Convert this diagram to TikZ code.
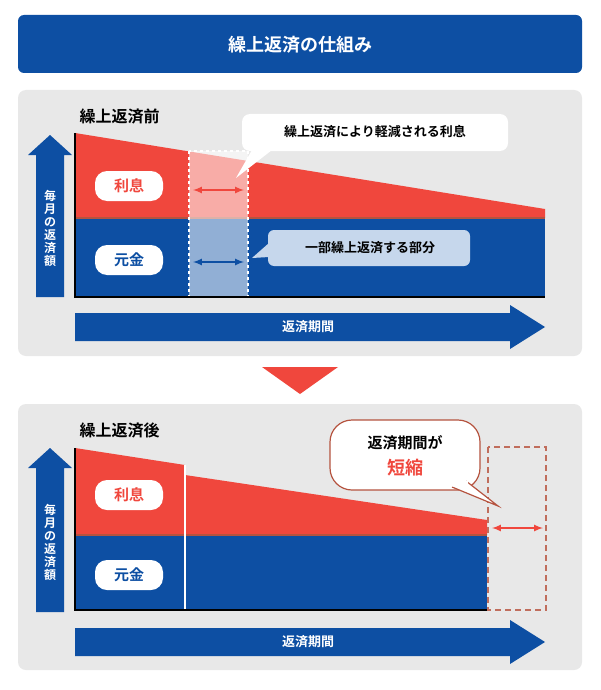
\documentclass[tikz,border=0pt]{standalone}
\usepackage{fontspec}
\setmainfont{Noto Sans CJK JP}[BoldFont={* Bold}]
\begin{document}
\begin{tikzpicture}[x=1pt,y=-1pt,
  bl/.style={fill=myblue},
  pill/.style={fill=white,rounded corners=12pt,minimum width=68pt,minimum height=30pt,font=\bfseries\fontsize{15}{15}\selectfont},
  lbl/.style={font=\bfseries\fontsize{13}{13}\selectfont,text=white}]
\definecolor{myblue}{HTML}{0D4FA3}
\definecolor{myred}{HTML}{F0473D}
\definecolor{panel}{HTML}{E8E8E8}
\definecolor{lblue}{HTML}{C6D7EC}
\definecolor{brn}{HTML}{B5533F}
\useasboundingbox (0,0) rectangle (600,690);
\fill[white] (0,0) rectangle (600,690);
% title
\fill[myblue,rounded corners=6pt] (18,15) rectangle (582,73);
\node[font=\bfseries\fontsize{18}{18}\selectfont,text=white] (title) at (300,45) {繰上返済の仕組み};
% panels
\fill[panel,rounded corners=8pt] (18,90) rectangle (582,356);
\fill[panel,rounded corners=8pt] (18,404) rectangle (582,670);
\node[anchor=west,font=\bfseries\fontsize{16}{16}\selectfont] (h1) at (76,116) {繰上返済前};
\node[anchor=west,font=\bfseries\fontsize{16}{16}\selectfont] (h2) at (76,430) {繰上返済後};
% vertical arrows
\foreach \t/\b in {135/297,448/612}{
  \fill[myblue] (36,\b) -- (36,\t+20) -- (28,\t+20) -- (50,\t) -- (72,\t+20) -- (64,\t+20) -- (64,\b) -- cycle;
  \node[lbl,align=center,font=\bfseries\fontsize{12}{13}\selectfont] at (50,{(\t+\b)/2+12}) {毎\\月\\の\\返\\済\\額};
}
% horizontal arrows
\foreach \y/\n in {327/ha1,642/ha2}{
  \fill[myblue] (75,\y-14) -- (510,\y-14) -- (510,\y-22) -- (545,\y) -- (510,\y+22) -- (510,\y+14) -- (75,\y+14) -- cycle;
  \node[lbl] (\n) at (308,\y) {返済期間};
}
% chart 1
\fill[myred] (75,133) -- (545,209) -- (545,218) -- (75,218) -- cycle;
\fill[myblue] (75,218) rectangle (545,297);
\draw[brn,line width=1.2pt] (75,218) -- (545,218);
\fill[white,opacity=0.55] (189,151) rectangle (248,297);
\draw[white,dashed,line width=1.5pt] (189,151) rectangle (248,297);
\draw[black,line width=1.5pt] (75,133) -- (75,297) -- (545,297);
\draw[myred,line width=2pt,<->,>=latex] (193,190) -- (244,190);
\draw[myblue,line width=2pt,<->,>=latex] (193,262) -- (244,262);
\node[pill,text=myred] (r1) at (129,186) {利息};
\node[pill,text=myblue] (g1) at (129,260) {元金};
% callouts
\fill[white,rounded corners=8pt] (242,114) rectangle (508,151);
\fill[white] (252,150) -- (236,178) -- (272,150) -- cycle;
\node[font=\bfseries\fontsize{13}{13}\selectfont] (c1) at (375,132) {繰上返済により軽減される利息};
\fill[lblue,rounded corners=6pt] (268,230) rectangle (470,266);
\fill[lblue] (269,243) -- (252,258) -- (269,257) -- cycle;
\node[font=\bfseries\fontsize{13}{13}\selectfont] (c2) at (370,248) {一部繰上返済する部分};
% triangle
\fill[myred] (262,367) -- (338,367) -- (300,394) -- cycle;
% chart 2
\fill[myred] (75,448) -- (185,465) -- (185,535) -- (75,535) -- cycle;
\fill[myred] (185,475) -- (487,520) -- (487,535) -- (185,535) -- cycle;
\fill[myblue] (75,535) rectangle (487,610);
\draw[brn,line width=1.2pt] (75,535) -- (487,535);
\draw[white,line width=1.5pt] (185,465) -- (185,610);
\draw[black,line width=1.5pt] (75,448) -- (75,610) -- (487,610);
\draw[brn!85,dashed,line width=1.5pt,dash pattern=on 6pt off 4pt] (488,447) rectangle (546,610);
\draw[myred,line width=2pt,<->,>=latex] (492,528) -- (543,528);
\node[pill,text=myred] (r2) at (129,495) {利息};
\node[pill,text=myblue] (g2) at (129,575) {元金};
% bubble
\filldraw[fill=white,draw=brn,line width=1.2pt,rounded corners=22pt] (330,420) rectangle (480,490);
\filldraw[fill=white,draw=brn,line width=1.2pt] (452,487) -- (498,506) -- (466,481);
\fill[white] (450,486) -- (468,480) -- (468,489) -- cycle;
\node[font=\bfseries\fontsize{15}{15}\selectfont] (b1) at (405,443) {返済期間が};
\node[font=\bfseries\fontsize{18}{18}\selectfont,text=myred] (b2) at (405,468) {短縮};
\end{tikzpicture}
\end{document}
